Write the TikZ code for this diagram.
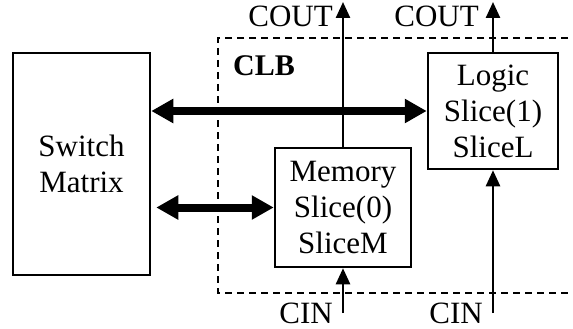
\documentclass[tikz,border=0pt]{standalone}
\usepackage{fontspec}
\setmainfont{Liberation Serif}
\usetikzlibrary{arrows.meta}
\begin{document}
\begin{tikzpicture}[x=1pt,y=-1pt,
  blockbox/.style={draw,line width=2.5pt,inner sep=0pt,align=center,
    font=\fontsize{31}{36}\selectfont},
  busarrow/.style={line width=8pt,{Triangle[length=22pt,width=23pt]}-{Triangle[length=22pt,width=23pt]}},
  carryarrow/.style={line width=2.5pt,-{Triangle[length=16pt,width=14pt]}},
  sigtext/.style={inner sep=0pt,text depth=0pt,font=\fontsize{31}{36}\selectfont},
  clbframe/.style={line width=1.5pt,dash pattern=on 7pt off 5pt}]
\useasboundingbox (0,0) rectangle (573,329);

% CLB boundary (open on the right)
\draw[clbframe] (580,38) -- (218,38) -- (218,293) -- (580,293);
\node[anchor=base west,inner sep=0pt,text depth=0pt,font=\fontsize{30}{36}\selectfont\bfseries] (clb) at (233,76) {CLB};

% blocks
\node[blockbox,minimum width=137pt,minimum height=222pt] (sw) at (81.5,164) {Switch\\Matrix};
\node[blockbox,minimum width=130pt,minimum height=116pt] (logic) at (493,111) {Logic\\Slice(1)\\SliceL};
\node[blockbox,minimum width=136pt,minimum height=119pt] (mem) at (343,207.5) {Memory\\Slice(0)\\SliceM};

% routing buses
\draw[busarrow] (logic.west -| sw.east) -- (logic.west);
\draw[busarrow] ([xshift=5pt]mem.west -| sw.east) -- (mem.west);

% carry chain
\coordinate (memout) at (343,2);
\coordinate (logout) at (493,2);
\coordinate (memin) at (343,313);
\coordinate (login) at (493,313);
\draw[carryarrow] (mem.north) -- (memout);
\draw[carryarrow] (logic.north) -- (logout);
\draw[carryarrow] (memin) -- (mem.south);
\draw[carryarrow] (login) -- (logic.south);

\node[sigtext,anchor=base east] (cout0) at (333,27) {COUT};
\node[sigtext,anchor=base east] (cout1) at (479,27) {COUT};
\node[sigtext,anchor=base east] (cin0) at (333,323) {CIN};
\node[sigtext,anchor=base east] (cin1) at (483,323) {CIN};
\end{tikzpicture}
\end{document}
